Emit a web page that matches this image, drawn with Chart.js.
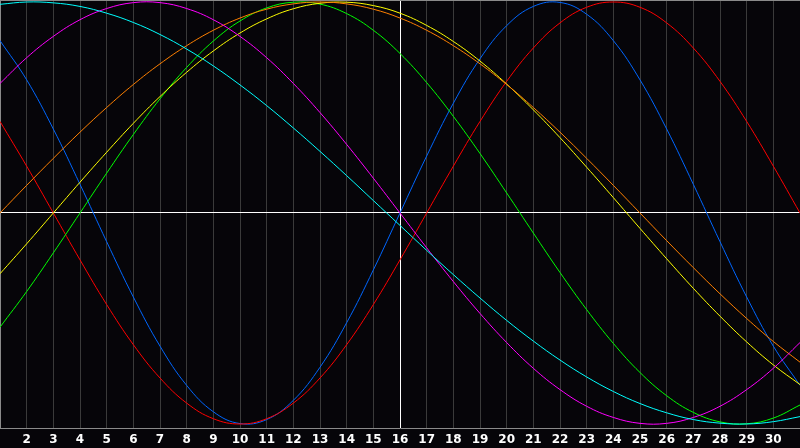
<!DOCTYPE html>
<html>
<head>
<meta charset="utf-8">
<script src="https://cdn.jsdelivr.net/npm/chart.js@4.4.1/dist/chart.umd.min.js"></script>
<style>
html,body{margin:0;padding:0;background:#060509;}
#wrap{width:800px;height:448px;position:relative;}
</style>
</head>
<body>
<div id="wrap"><canvas id="c" width="800" height="448"></canvas></div>
<script>
const days = [1,2,3,4,5,6,7,8,9,10,11,12,13,14,15,16,17,18,19,20,21,22,23,24,25,26,27,28,29,30,31];

const physical = [0.817,0.631,0.398,0.136,-0.136,-0.398,-0.631,-0.817,-0.942,-0.998,-0.979,-0.888,-0.731,-0.520,-0.270,0,0.270,0.520,0.731,0.888,0.979,0.998,0.942,0.817,0.631,0.398,0.136,-0.136,-0.398,-0.631,-0.817];
const emotional = [0.434,0.222,0,-0.222,-0.434,-0.624,-0.782,-0.901,-0.975,-1,-0.975,-0.901,-0.782,-0.624,-0.434,-0.222,0,0.222,0.434,0.624,0.782,0.901,0.975,1,0.975,0.901,0.782,0.624,0.434,0.222,0];
const intellectual = [-0.541,-0.372,-0.189,0,0.189,0.372,0.541,0.690,0.815,0.910,0.972,0.999,0.990,0.945,0.866,0.756,0.618,0.458,0.282,0.095,-0.095,-0.282,-0.458,-0.618,-0.756,-0.866,-0.945,-0.990,-0.999,-0.972,-0.910];
const intuition = [0.614,0.736,0.837,0.916,0.969,0.997,0.997,0.969,0.916,0.837,0.736,0.614,0.476,0.325,0.165,0,-0.165,-0.325,-0.476,-0.614,-0.736,-0.837,-0.916,-0.969,-0.997,-0.997,-0.969,-0.916,-0.837,-0.736,-0.614];
const aesthetic = [-0.288,-0.146,0,0.146,0.288,0.425,0.552,0.667,0.768,0.853,0.920,0.968,0.994,0.999,0.983,0.947,0.889,0.813,0.720,0.611,0.489,0.357,0.217,0.073,-0.073,-0.217,-0.357,-0.489,-0.611,-0.720,-0.813];
const awareness = [0,0.131,0.259,0.383,0.5,0.609,0.707,0.793,0.866,0.924,0.966,0.991,1,0.991,0.966,0.924,0.866,0.793,0.707,0.609,0.5,0.383,0.259,0.131,0,-0.131,-0.259,-0.383,-0.5,-0.609,-0.707];
const spiritual = [0.989,1.000,0.996,0.979,0.947,0.903,0.846,0.777,0.697,0.607,0.509,0.403,0.292,0.177,0.059,-0.059,-0.177,-0.292,-0.403,-0.509,-0.607,-0.697,-0.777,-0.846,-0.903,-0.947,-0.979,-0.996,-1.000,-0.989,-0.965];

const todayDay = 16;

const mk = (data, color) => ({data, borderColor: color, borderWidth: 1, pointRadius: 0, tension: 0.4, fill: false});

const frame = {
  id: 'frame',
  beforeDraw(chart) {
    const {ctx} = chart;
    ctx.save();
    ctx.fillStyle = '#060509';
    ctx.fillRect(0, 0, chart.width, chart.height);
    ctx.restore();
  },
  afterDatasetsDraw(chart) {
    const {ctx, chartArea: a} = chart;
    ctx.save();
    ctx.strokeStyle = '#8a8a8a';
    ctx.lineWidth = 1;
    ctx.beginPath();
    ctx.moveTo(a.left, a.top + 0.5);
    ctx.lineTo(a.right, a.top + 0.5);
    ctx.stroke();
    ctx.restore();
  }
};

new Chart(document.getElementById('c'), {
  type: 'line',
  data: {
    labels: days,
    datasets: [
      mk(spiritual, '#00ffff'),
      mk(intuition, '#ff00ff'),
      mk(awareness, '#ff8000'),
      mk(aesthetic, '#ffff00'),
      mk(intellectual, '#00ff00'),
      mk(emotional, '#ff0000'),
      mk(physical, '#0066ff')
    ]
  },
  options: {
    responsive: false,
    animation: false,
    layout: {padding: 0},
    plugins: {legend: {display: false}, tooltip: {enabled: false}},
    scales: {
      x: {
        offset: false,
        afterFit: s => { s.height = 20; s.paddingLeft = 0; s.paddingRight = 0; },
        grid: {
          color: ctx => (ctx.tick && ctx.tick.label == todayDay) ? '#ffffff' : '#3a3a3a',
          lineWidth: 1,
          drawTicks: false
        },
        border: {color: '#8a8a8a'},
        ticks: {
          autoSkip: false,
          maxRotation: 0,
          color: '#ffffff',
          padding: 5,
          font: {family: 'DejaVu Sans', weight: 'bold', size: 12},
          callback: function(v, i, t) { return (i === 0 || i === t.length - 1) ? '' : this.getLabelForValue(v); }
        }
      },
      y: {
        min: -1.019,
        max: 1.0095,
        afterFit: s => { s.width = 0; },
        afterBuildTicks: s => { s.ticks = [{value: 0}]; },
        grid: {color: '#ffffff', lineWidth: 1, drawTicks: false},
        border: {color: '#8a8a8a'},
        ticks: {display: false}
      }
    }
  },
  plugins: [frame]
});
</script>
</body>
</html>
